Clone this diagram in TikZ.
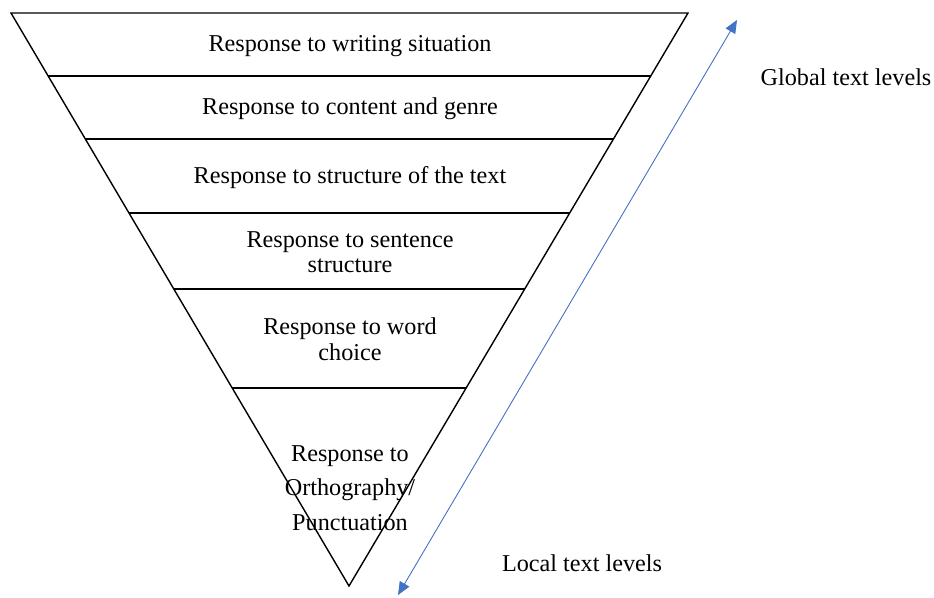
\documentclass[tikz,border=0pt]{standalone}
\usepackage{fontspec}
\setmainfont{Liberation Serif}
\usetikzlibrary{arrows.meta,calc}
\definecolor{arrowblue}{RGB}{68,114,196}
\tikzset{
  lbl/.style={font=\fontsize{24.2}{25.5}\selectfont, align=center, inner sep=0pt},
  lvl/.style={draw=black, line width=1.4pt},
  dbl/.style={draw=arrowblue, line width=0.9pt, {Triangle[length=13pt,width=11pt]}-{Triangle[length=13pt,width=11pt]}}
}
\begin{document}
\begin{tikzpicture}[x=1pt,y=-1pt]
\useasboundingbox (0,0) rectangle (934,597);
\coordinate (TL) at (11,13);
\coordinate (TR) at (688,13);
\coordinate (B) at (349,586);
\draw[lvl, line join=miter] (TL) -- (TR) -- (B) -- cycle;
\foreach \y [count=\i] in {76,139,213,289,388}{
  \coordinate (L\i) at ($(TL)!{(\y-13)/573}!(B)$);
  \coordinate (R\i) at ($(TR)!{(\y-13)/573}!(B)$);
  \draw[lvl] (L\i) -- (R\i);
}
\node[lbl] (t1) at (350,46) {Response to writing situation};
\node[lbl] (t2) at (350,109) {Response to content and genre};
\node[lbl] (t3) at (350,178) {Response to structure of the text};
\node[lbl] (t4) at (350,252) {Response to sentence\\structure};
\node[lbl] (t5) at (350,339) {Response to word\\choice};
\node[lbl, font=\fontsize{24.2}{34.5}\selectfont] (t6) at (350,488) {Response to\\Orthography/\\Punctuation};
\node[lbl] (g) at (846,77) {Global text levels};
\node[lbl] (l) at (582,563) {Local text levels};
\coordinate (A1) at (398,595);
\coordinate (A2) at (737,20);
\draw[dbl] (A1) -- (A2);
\end{tikzpicture}
\end{document}
